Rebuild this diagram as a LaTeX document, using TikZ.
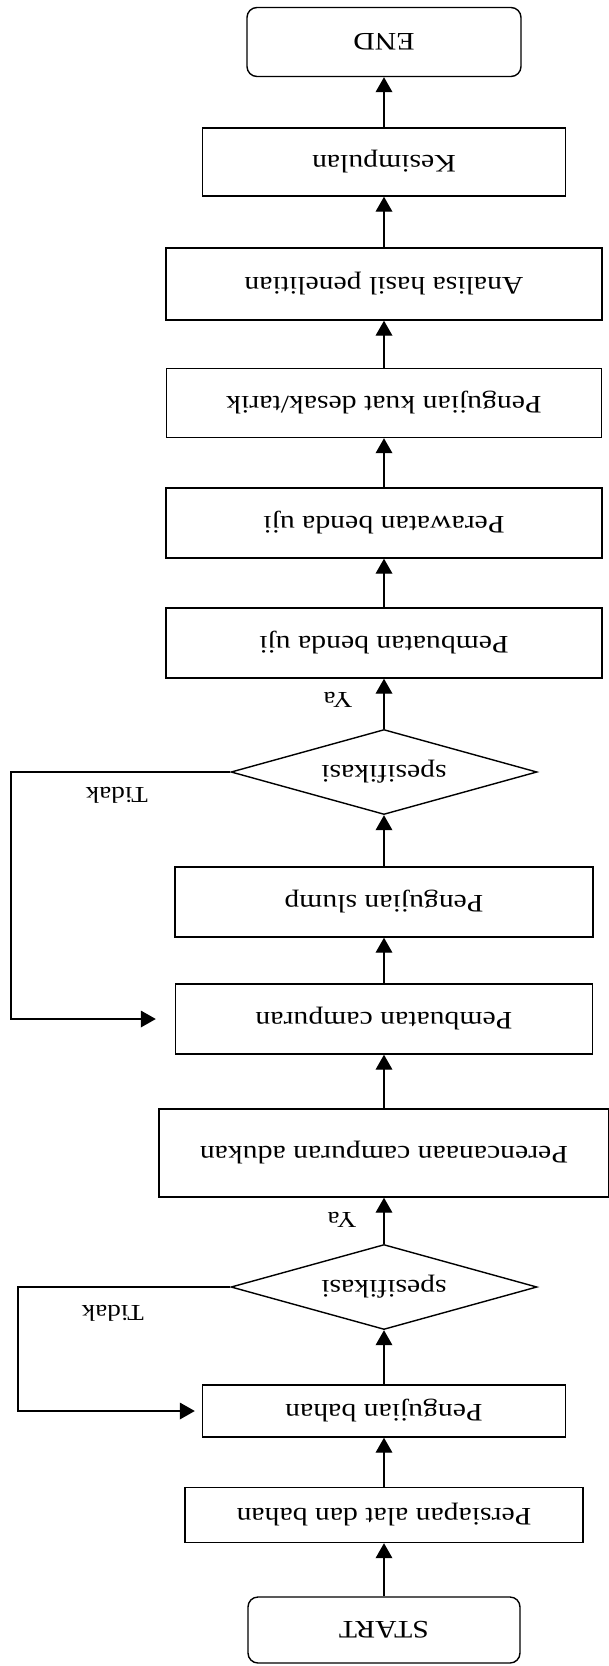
\documentclass[tikz,border=0pt]{standalone}
\usepackage{fontspec}
\setmainfont{Liberation Serif}[FakeStretch=1.18]
\usetikzlibrary{shapes.geometric,arrows.meta}

\begin{document}
\begin{tikzpicture}[x=0.03cm,y=-0.03cm,>={Triangle[length=0.45cm,width=0.5cm]},line width=1.2pt,
  proses/.style={rectangle,draw,rotate=180,minimum height=2.1cm,font=\fontsize{21.5}{24}\selectfont},
  ujung/.style={proses,rounded corners=0.3cm},
  cek/.style={diamond,draw,rotate=180,aspect=3.6,minimum width=9.18cm,minimum height=2.55cm,inner sep=0pt,font=\fontsize{21.5}{24}\selectfont},
  ket/.style={rotate=180,font=\fontsize{19.5}{22}\selectfont}]

  \useasboundingbox (0,0) rectangle (608,1666);

  \node[ujung, minimum width=8.22cm, minimum height=2.07cm] (end) at (384,42) {END};
  \node[proses, minimum width=10.89cm, minimum height=2.04cm] (kesimpulan) at (384,162) {Kesimpulan};
  \node[proses, minimum width=13.08cm, minimum height=2.16cm] (analisa) at (384,284) {Analisa hasil penelitian};
  \node[proses, minimum width=13.05cm, minimum height=2.07cm] (kuat) at (384,403) {Pengujian kuat desak/tarik};
  \node[proses, minimum width=13.08cm] (perawatan) at (384,523) {Perawatan benda uji};
  \node[proses, minimum width=13.08cm] (bendauji) at (384,643) {Pembuatan benda uji};
  \node[cek] (spek2) at (384,772) {spesifikasi};
  \node[proses, minimum width=12.54cm] (slump) at (384,902) {Pengujian slump};
  \node[proses, minimum width=12.51cm] (campuran) at (384,1019) {Pembuatan campuran};
  \node[proses, minimum width=13.5cm, minimum height=2.64cm] (rencana) at (384,1153) {Perencanaan campuran adukan};
  \node[cek] (spek1) at (384,1287) {spesifikasi};
  \node[proses, minimum width=10.89cm, minimum height=1.56cm] (bahan) at (384,1411) {Pengujian bahan};
  \node[proses, minimum width=11.94cm, minimum height=1.65cm] (persiapan) at (384,1515) {Persiapan alat dan bahan};
  \node[ujung, minimum width=8.16cm, minimum height=1.98cm] (start) at (384,1630) {START};

  % label ya / tidak
  \node[ket] (ya2) at (338,700) {Ya};
  \node[ket] (tidak2) at (117,795) {Tidak};
  \node[ket] (ya1) at (342,1220) {Ya};
  \node[ket] (tidak1) at (113,1313) {Tidak};

  \coordinate (balik2) at (11,0);
  \coordinate (balik1) at (18,0);

  \draw[->] (start) -- (persiapan);
  \draw[->] (persiapan) -- (bahan);
  \draw[->] (bahan) -- (spek1);
  \draw[->] (spek1) -- (rencana);
  \draw[->] (rencana) -- (campuran);
  \draw[->] (campuran) -- (slump);
  \draw[->] (slump) -- (spek2);
  \draw[->] (spek2) -- (bendauji);
  \draw[->] (bendauji) -- (perawatan);
  \draw[->] (perawatan) -- (kuat);
  \draw[->] (kuat) -- (analisa);
  \draw[->] (analisa) -- (kesimpulan);
  \draw[->] (kesimpulan) -- (end);

  \draw[->, shorten >=0.21cm] (spek1.east) -| (balik1 |- bahan.east) -- (bahan.east);
  \draw[->, shorten >=0.57cm] (spek2.east) -| (balik2 |- campuran.east) -- (campuran.east);

\end{tikzpicture}
\end{document}
